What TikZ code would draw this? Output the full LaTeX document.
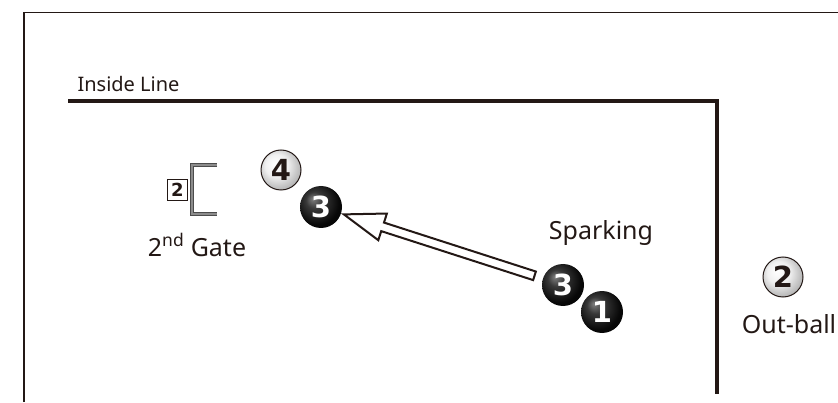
\documentclass[tikz,border=0pt]{standalone}
\usepackage{fontspec}
\setmainfont{Noto Sans}
\newfontfamily\ballfont{DejaVu Sans}
\usetikzlibrary{positioning,calc,shapes.arrows}

\definecolor{ink}{RGB}{35,24,21}
% ball shadings, highlight up left
\pgfdeclareradialshading{darkball}{\pgfpoint{-10bp}{10bp}}{color(0bp)=(black!50); color(10bp)=(black!78); color(26bp)=(black!97); color(50bp)=(black)}
\pgfdeclareradialshading{lightball}{\pgfpoint{-8bp}{8bp}}{color(0bp)=(white); color(14bp)=(black!6); color(32bp)=(black!35); color(50bp)=(black!50)}

\tikzset{
	x=1pt, y=1pt,
	every node/.style={text=ink, font=\fontsize{25}{30}\selectfont}, % all labels
	numfont/.style={font=\ballfont\bfseries\fontsize{29}{29}\selectfont},
}

\begin{document}
\begin{tikzpicture}[
	darkball/.style={circle, minimum size=42pt, inner sep=0pt, shade, shading=darkball, numfont, text=white},
	lightball/.style={circle, minimum size=40pt, inner sep=0pt, draw=ink, line width=1pt, shade, shading=lightball, numfont},
	gatebox/.style={rectangle, draw=ink, line width=0.8pt, minimum width=20pt, minimum height=21pt, inner sep=0pt, font=\ballfont\bfseries\fontsize{18}{18}\selectfont},
	gatebar/.style={draw=black!70, line width=1.2pt, double=black!45, double distance=2.4pt},
	sparkarrow/.style={single arrow, draw=ink, fill=white, line width=2pt, inner sep=3.5pt, single arrow head extend=9.5pt, single arrow tip angle=38, anchor=tip},
	]
	\useasboundingbox (0,0) rectangle (838,402);

	% frame and inside line
	\draw[ink, line width=1.3pt] (24,0) -- (24,389.7) -- (838,389.7);
	\draw[ink, line width=4pt] (68,300.5) -- (717,300.5) -- (717,8);
	\node[anchor=base, font=\fontsize{20}{24}\selectfont] (insidelbl) at (128.5,310) {Inside Line};

	% 2nd gate
	\node[gatebox] (gatebox) at (177.5,212) {2};
	\draw[gatebar] (217,237) -- (192,237) -- (192,188) -- (217,188);
	\node[anchor=base] (gatelbl) at (197,146) {2\textsuperscript{nd} Gate};

	%Nodes
	\node[lightball] (ballfour) at (281,232) {4};
	\node[darkball] (ballthreeold) at (321,195) {3};
	\node[darkball] (ballthree) at (563,117) {3};
	\node[darkball] (ballone) at (602,90) {1};
	\node[lightball] (balltwo) at (783,125) {2};

	\node[anchor=base] (sparking) at (601,162) {Sparking};
	\node[anchor=base] (outball) at (789,69) {Out-ball};

	%Lines
	\path let \p1=($(ballthree)!33pt!(ballthreeold)$),
		\p2=($(ballthreeold)!21pt!(ballthree)$),
		\n1={atan2(\y2-\y1,\x2-\x1)},
		\n2={veclen(\x2-\x1,\y2-\y1)} in
		node[sparkarrow, rotate=\n1, minimum height=\n2] (spark) at (\p2) {};
\end{tikzpicture}
\end{document}
